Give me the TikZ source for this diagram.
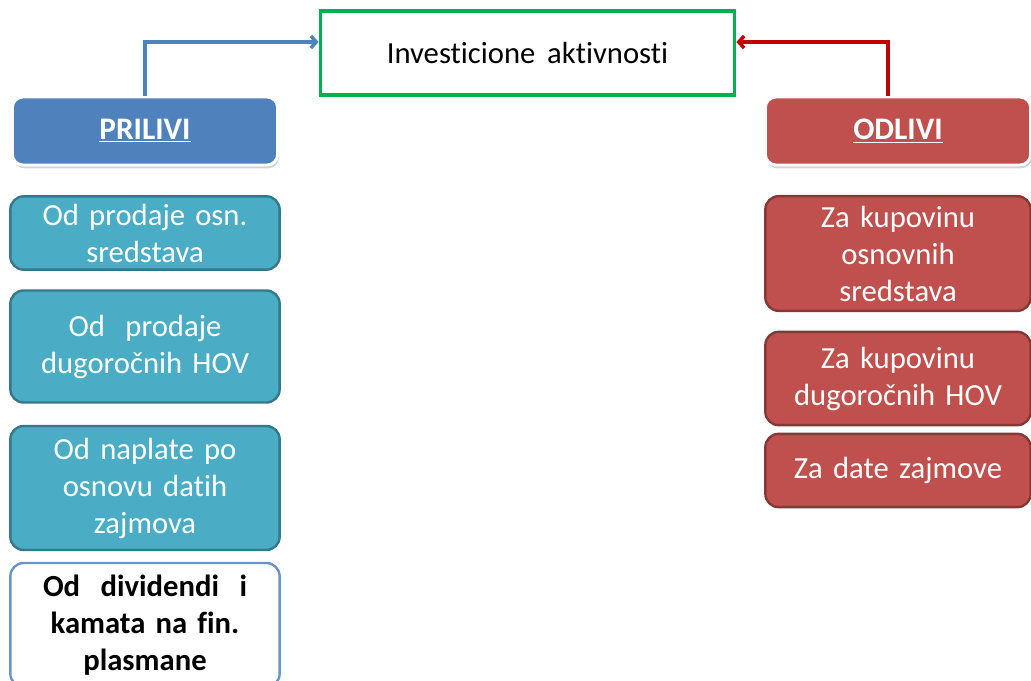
\documentclass[tikz,border=0pt]{standalone}
\usepackage{fontspec}
\setmainfont{Carlito}[Ligatures=NoCommon, WordSpace=0.85]
\usetikzlibrary{shadows,arrows.meta}
\definecolor{zelena}{HTML}{00B050}
\definecolor{plava}{HTML}{4F81BD}
\definecolor{crvena}{HTML}{C0504D}
\definecolor{tamnocrvena}{HTML}{C00000}
\definecolor{tirkiz}{HTML}{4BACC6}
\tikzset{>={Straight Barb[length=4pt,width=9pt]}}
\tikzset{
  naslov/.style={draw=white, line width=2.2pt, rounded corners=8pt, minimum width=199pt, minimum height=51pt,
    text=white, font=\fontsize{23.5}{28}\selectfont\bfseries, drop shadow={opacity=0.35, shadow xshift=1pt, shadow yshift=-2.5pt}},
  priliv/.style={draw=tirkiz!70!black, fill=tirkiz, line width=1.8pt, rounded corners=10pt, minimum width=202pt,
    text width=195pt, align=center, text=white, inner sep=0pt, font=\fontsize{23}{27.75}\selectfont},
  odliv/.style={priliv, draw=crvena!70!black, fill=crvena, minimum width=199pt},
  veza/.style={->, line width=2.6pt}
}

\begin{document}
\begin{tikzpicture}[x=0.75pt,y=-0.75pt]
\useasboundingbox (0,0) rectangle (1031,681);
% gornji okvir
\node[draw=zelena, line width=2.4pt, minimum width=311pt, minimum height=63pt,
  font=\fontsize{23}{28}\selectfont] (inv) at (527.5,53) {Investicione\ \ aktivnosti};
% naslovi
\node[naslov, fill=plava] (prilivi) at (145,131) {\underline{PRILIVI}};
\node[naslov, fill=crvena] (odlivi) at (898,131) {\underline{ODLIVI}};
\draw[veza, plava] (prilivi.north) |- ([yshift=8.25pt]inv.west);
\draw[veza, tamnocrvena] ([xshift=-7.5pt]odlivi.north) |- ([yshift=8.25pt]inv.east);
% prilivi
\node[priliv, minimum height=55pt] (p1) at (145,233) {Od prodaje osn.\\sredstava};
\node[priliv, minimum height=84pt] (p2) at (145,346.5) {Od\ \ prodaje\\dugoročnih HOV};
\node[priliv, minimum height=93pt] (p3) at (145,488) {Od naplate po\\osnovu datih\\zajmova};
\node[priliv, draw=plava!85!white, fill=white, text=black, minimum height=93pt, font=\fontsize{23}{27.75}\selectfont\bfseries]
  (p4) at (145,625) {Od\ \ dividendi\ \ i\\kamata na fin.\\plasmane};
% odlivi
\node[odliv, minimum height=86pt] (o1) at (898,253.5) {Za kupovinu\\osnovnih\\sredstava};
\node[odliv, minimum height=70pt] (o2) at (898,378.5) {Za kupovinu\\dugoročnih HOV};
\node[odliv, minimum height=55pt] (o3) at (898,470.5) {Za date zajmove};
\end{tikzpicture}
\end{document}
